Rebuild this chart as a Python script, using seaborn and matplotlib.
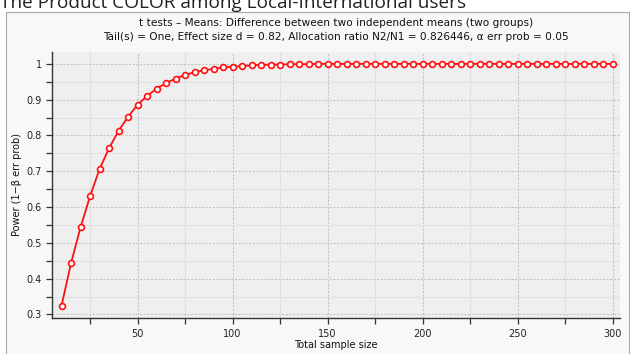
import numpy as np
import pandas as pd
import matplotlib
matplotlib.use("Agg")
import matplotlib.pyplot as plt
import seaborn as sns
from matplotlib.patches import Rectangle
from matplotlib.ticker import MultipleLocator

sample_size = list(range(10, 305, 5))
power = [0.324, 0.443, 0.543, 0.630, 0.706, 0.764, 0.813, 0.852, 0.886, 0.910,
         0.931, 0.946, 0.959, 0.969, 0.977, 0.982, 0.986, 0.990, 0.992, 0.994,
         0.996, 0.997, 0.998, 0.998, 0.999, 0.999, 0.999, 1.0, 1.0, 1.0,
         1.0, 1.0, 1.0, 1.0, 1.0, 1.0, 1.0, 1.0, 1.0, 1.0,
         1.0, 1.0, 1.0, 1.0, 1.0, 1.0, 1.0, 1.0, 1.0, 1.0,
         1.0, 1.0, 1.0, 1.0, 1.0, 1.0, 1.0, 1.0, 1.0]
sample_size = sample_size[:len(power)]

page_title = "The Product COLOR among Local-International users"
title1 = "t tests \u2013 Means: Difference between two independent means (two groups)"
title2 = "Tail(s) = One, Effect size d = 0.82, Allocation ratio N2/N1 = 0.826446, \u03b1 err prob = 0.05"
xlabel = "Total sample size"
ylabel = "Power (1\u2212\u03b2 err prob)"

df = pd.DataFrame({"n": sample_size, "power": power})

sns.set_style("white")
plt.rcParams['font.family'] = ['DejaVu Sans']

fig = plt.figure(figsize=(6.36, 3.54), dpi=100, facecolor="white")
W, H = 636, 354
frame = Rectangle((6 / W, -0.05), (629 - 6) / W, (354 - 12) / H + 0.05,
                  transform=fig.transFigure, facecolor="#f8f8f8",
                  edgecolor="#a8a8a8", linewidth=0.8, zorder=-10)
fig.add_artist(frame)
fig.text(0 / W, 1 - 8 / H, page_title, fontsize=13.7, family="Open Sans",
         ha="left", va="baseline", color="#222222")

ax = fig.add_axes([52 / W, 1 - 318 / H, (620 - 52) / W, (318 - 51.7) / H])
ax.set_zorder(2)
ax.set_facecolor("#efefef")

sns.lineplot(data=df, x="n", y="power", ax=ax, color="#ff1010", linewidth=1.3,
             marker="o", markersize=4.2, markerfacecolor="white",
             markeredgecolor="#ff1010", markeredgewidth=1.2, zorder=5)

ax.set_xlim(5.0, 303.8)
ax.set_ylim(0.29, 1.034)
ax.xaxis.set_major_locator(MultipleLocator(50))
ax.xaxis.set_minor_locator(MultipleLocator(25))
ax.yaxis.set_minor_locator(MultipleLocator(0.05))
ax.set_yticks([0.3, 0.4, 0.5, 0.6, 0.7, 0.8, 0.9, 1.0])
ax.set_yticklabels(["0.3", "0.4", "0.5", "0.6", "0.7", "0.8", "0.9", "1"])

ax.grid(which="major", color="#c2c2c2", linestyle=(0, (2, 1.5)), linewidth=0.75)
ax.grid(which="minor", color="#e0e0e0", linestyle="-", linewidth=0.8)
ax.set_axisbelow(True)

for s in ["top", "right"]:
    ax.spines[s].set_visible(False)
for s in ["left", "bottom"]:
    ax.spines[s].set_color("#333333")
    ax.spines[s].set_linewidth(1.0)

ax.tick_params(which="both", direction="out", length=4.5, width=0.9,
               color="#333333", labelsize=7, labelcolor="#222222",
               left=True, bottom=True)
ax.tick_params(which="minor", labelleft=False, labelbottom=False)
ax.tick_params(axis="y", pad=3)

ax.set_xlabel(xlabel, fontsize=7, color="#111111", labelpad=1)
ax.set_ylabel(ylabel, fontsize=7, color="#111111", labelpad=3)

cx = (52 + 620) / 2 / W
fig.text(cx, 1 - 23 / H, title1, fontsize=7.6, ha="center", va="center", color="#111111")
fig.text(cx, 1 - 37 / H, title2, fontsize=7.6, ha="center", va="center", color="#111111")

fig.savefig("out.png", dpi=100, facecolor=fig.get_facecolor())
